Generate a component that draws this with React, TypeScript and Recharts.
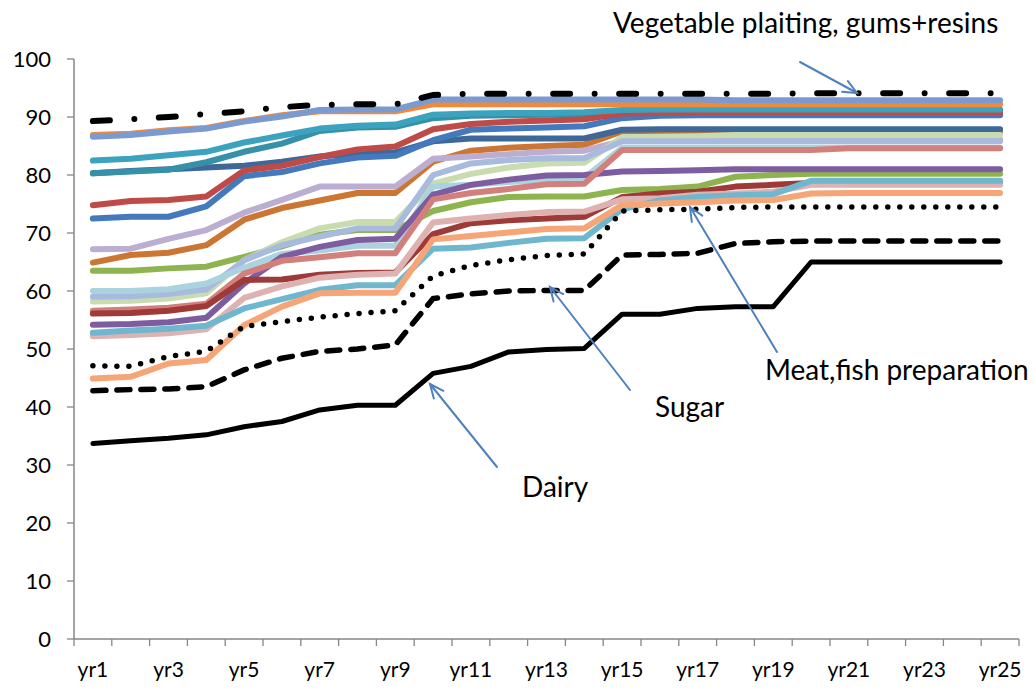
import { LineChart, Line, XAxis, YAxis } from "recharts"

const years = [
  "yr1", "yr2", "yr3", "yr4", "yr5", "yr6", "yr7", "yr8", "yr9", "yr10",
  "yr11", "yr12", "yr13", "yr14", "yr15", "yr16", "yr17", "yr18", "yr19", "yr20",
  "yr21", "yr22", "yr23", "yr24", "yr25",
]

const yTicks = [0, 10, 20, 30, 40, 50, 60, 70, 80, 90, 100]

// black series (annotated)
const vegetablePlaiting = [89.3, 89.6, 90.0, 90.5, 91.0, 91.7, 92.1, 92.2, 92.2, 93.8, 94.0, 94.0, 94.0, 94.0, 94.0, 94.0, 94.0, 94.0, 94.0, 94.1, 94.1, 94.1, 94.1, 94.1, 94.1]
const meatFish = [47.1, 47.0, 48.7, 49.6, 53.9, 54.7, 55.5, 56.1, 56.6, 62.6, 64.4, 65.4, 66.1, 66.4, 73.8, 74.0, 74.1, 74.4, 74.5, 74.5, 74.5, 74.5, 74.5, 74.5, 74.5]
const sugar = [42.8, 43.0, 43.1, 43.5, 46.4, 48.4, 49.6, 50.0, 50.7, 58.7, 59.5, 60.0, 60.1, 60.1, 66.2, 66.3, 66.5, 68.2, 68.5, 68.6, 68.6, 68.6, 68.6, 68.6, 68.6]
const dairy = [33.7, 34.2, 34.6, 35.2, 36.6, 37.5, 39.5, 40.3, 40.3, 45.8, 47.0, 49.5, 49.9, 50.1, 56.0, 56.0, 57.0, 57.3, 57.3, 65.0, 65.0, 65.0, 65.0, 65.0, 65.0]

// other sectors
const s1 = [86.6, 86.9, 87.5, 88.0, 89.2, 90.1, 91.2, 91.3, 91.3, 93.0, 93.0, 93.0, 93.0, 93.0, 93.0, 93.0, 93.0, 92.9, 92.9, 92.9, 92.9, 92.9, 92.9, 92.9, 92.9]
const s2 = [86.9, 87.1, 87.7, 88.1, 89.3, 90.3, 91.0, 91.0, 91.0, 92.2, 92.2, 92.2, 92.2, 92.2, 92.2, 92.2, 92.2, 92.2, 92.2, 92.2, 92.2, 92.2, 92.2, 92.2, 92.2]
const s3 = [82.5, 82.8, 83.4, 84.0, 85.6, 86.8, 88.0, 88.5, 88.7, 90.4, 90.6, 90.7, 90.7, 90.8, 91.2, 91.3, 91.3, 91.3, 91.3, 91.3, 91.3, 91.3, 91.3, 91.3, 91.3]
const s4 = [80.3, 80.6, 80.9, 82.2, 84.0, 85.4, 87.6, 88.2, 88.3, 89.8, 90.2, 90.3, 90.4, 90.5, 90.9, 91.0, 91.0, 91.0, 91.0, 91.0, 91.0, 91.0, 91.0, 91.0, 91.0]
const s5 = [80.3, 80.7, 81.0, 81.3, 81.6, 82.3, 83.2, 83.7, 83.9, 85.8, 86.3, 86.3, 86.3, 86.3, 87.8, 87.9, 87.9, 87.9, 87.9, 87.9, 87.9, 87.9, 87.9, 87.9, 87.9]
const s6 = [72.5, 72.8, 72.8, 74.6, 79.8, 80.5, 82.0, 83.0, 83.3, 86.0, 87.8, 88.0, 88.2, 88.4, 89.8, 90.2, 90.3, 90.3, 90.3, 90.3, 90.3, 90.3, 90.3, 90.3, 90.3]
const s7 = [74.8, 75.5, 75.7, 76.3, 80.8, 81.6, 83.1, 84.4, 84.9, 87.9, 88.8, 89.2, 89.4, 89.6, 90.6, 90.7, 90.7, 90.7, 90.7, 90.7, 90.7, 90.7, 90.7, 90.7, 90.7]
const s8 = [67.2, 67.3, 69.0, 70.5, 73.5, 75.7, 78.0, 78.0, 78.0, 82.8, 83.2, 83.6, 84.0, 84.2, 85.9, 86.0, 86.1, 86.1, 86.1, 86.1, 86.1, 86.1, 86.1, 86.1, 86.1]
const s9 = [64.9, 66.2, 66.6, 67.9, 72.3, 74.3, 75.6, 76.9, 76.9, 82.3, 84.2, 84.7, 85.0, 85.2, 87.5, 87.5, 87.4, 87.4, 87.4, 87.4, 87.4, 87.4, 87.4, 87.4, 87.4]
const s10 = [58.2, 58.3, 58.7, 59.6, 65.3, 68.4, 70.8, 71.9, 71.9, 78.5, 80.2, 81.3, 82.0, 82.1, 86.5, 86.6, 86.7, 86.9, 86.9, 86.9, 86.9, 86.9, 86.9, 86.9, 86.9]
const s11 = [63.5, 63.5, 63.9, 64.2, 65.9, 67.7, 69.7, 70.5, 70.5, 73.8, 75.3, 76.2, 76.3, 76.3, 77.4, 77.6, 78.0, 79.7, 80.0, 80.2, 80.2, 80.2, 80.2, 80.2, 80.2]
const s12 = [59.0, 59.1, 59.5, 60.3, 65.3, 67.9, 69.4, 70.8, 70.8, 80.0, 82.0, 82.6, 82.9, 82.9, 85.8, 85.8, 85.8, 85.8, 85.8, 85.8, 85.8, 85.8, 85.8, 85.8, 85.8]
const s13 = [60.0, 60.0, 60.3, 61.3, 64.0, 66.4, 67.0, 67.8, 67.8, 78.0, 78.3, 78.8, 79.2, 79.5, 84.7, 84.7, 84.7, 84.7, 84.7, 84.7, 84.7, 84.7, 84.7, 84.7, 84.7]
const s14 = [56.6, 56.8, 57.1, 57.8, 63.0, 65.2, 65.8, 66.5, 66.5, 75.8, 76.9, 77.6, 78.4, 78.5, 84.3, 84.3, 84.3, 84.3, 84.3, 84.3, 84.6, 84.6, 84.6, 84.6, 84.6]
const s15 = [56.1, 56.2, 56.6, 57.4, 61.9, 62.0, 62.8, 63.1, 63.2, 69.8, 71.7, 72.2, 72.5, 72.8, 76.2, 76.8, 77.1, 78.0, 78.3, 78.6, 78.6, 78.6, 78.6, 78.6, 78.6]
const s16 = [54.2, 54.3, 54.6, 55.4, 61.3, 65.9, 67.6, 68.8, 69.0, 76.6, 78.3, 79.2, 79.9, 80.0, 80.6, 80.7, 80.8, 81.0, 81.0, 81.0, 81.0, 81.0, 81.0, 81.0, 81.0]
const s17 = [52.8, 53.2, 53.5, 54.0, 57.0, 58.6, 60.2, 61.0, 61.0, 67.3, 67.5, 68.3, 69.0, 69.1, 74.1, 75.6, 76.2, 76.5, 76.7, 79.0, 79.0, 79.0, 79.0, 79.0, 79.0]
const s18 = [52.2, 52.4, 52.7, 53.4, 58.8, 60.8, 62.3, 62.8, 63.0, 71.8, 72.5, 73.1, 73.6, 73.7, 75.8, 76.0, 76.6, 76.8, 77.1, 78.3, 78.3, 78.3, 78.3, 78.3, 78.3]
const s19 = [44.9, 45.2, 47.5, 48.1, 54.1, 57.3, 59.6, 59.7, 59.7, 68.9, 69.5, 70.1, 70.7, 70.8, 74.8, 75.1, 75.3, 75.6, 75.7, 76.8, 76.9, 76.9, 76.9, 76.9, 76.9]

const series = [
  { key: "s9", values: s9, color: "#CC7634" },
  { key: "s8", values: s8, color: "#BBAED0" },
  { key: "s5", values: s5, color: "#3D6898" },
  { key: "s4", values: s4, color: "#3590A8" },
  { key: "s6", values: s6, color: "#4479BE" },
  { key: "s7", values: s7, color: "#BE4B48" },
  { key: "s3", values: s3, color: "#3CA3BF" },
  { key: "s2", values: s2, color: "#EE8A3A" },
  { key: "s1", values: s1, color: "#7C9AD2" },
  { key: "s11", values: s11, color: "#8DB44E" },
  { key: "s10", values: s10, color: "#C8DCB0" },
  { key: "s12", values: s12, color: "#A8BADD" },
  { key: "s13", values: s13, color: "#ABD3DF" },
  { key: "s16", values: s16, color: "#7D5DA0" },
  { key: "s14", values: s14, color: "#D3807C" },
  { key: "s15", values: s15, color: "#9E3A38" },
  { key: "s18", values: s18, color: "#DDB2B1" },
  { key: "s17", values: s17, color: "#6FB7CF" },
  { key: "s19", values: s19, color: "#F6A577" },
]

const data = years.map((yr, i) => {
  const row: Record<string, any> = {
    yr,
    vegetablePlaiting: vegetablePlaiting[i],
    meatFish: meatFish[i],
    sugar: sugar[i],
    dairy: dairy[i],
  }
  series.forEach((s) => {
    row[s.key] = s.values[i]
  })
  return row
})

const FONT = "Lato, 'Open Sans', sans-serif"
const BAND = (1035 - 74 - 16) / years.length

function YearTick(props: any) {
  const { x, y, payload, index } = props
  const half = BAND / 2
  return (
    <g>
      <line x1={x - half} x2={x - half} y1={y} y2={y + 7} stroke="#868686" strokeWidth={1.3} />
      {index === years.length - 1 && (
        <line x1={x + half} x2={x + half} y1={y} y2={y + 7} stroke="#868686" strokeWidth={1.3} />
      )}
      {index % 2 === 0 && (
        <text x={x} y={y + 38} textAnchor="middle" fontSize={21} fill="#000" fontFamily={FONT}>
          {payload.value}
        </text>
      )}
    </g>
  )
}

function Arrow({ from, to }: { from: number[]; to: number[] }) {
  const [x1, y1] = from
  const [x2, y2] = to
  const ang = Math.atan2(y2 - y1, x2 - x1)
  const len = 15
  const spread = 0.42
  const w1 = [x2 - len * Math.cos(ang - spread), y2 - len * Math.sin(ang - spread)]
  const w2 = [x2 - len * Math.cos(ang + spread), y2 - len * Math.sin(ang + spread)]
  return (
    <g stroke="#4F81BD" strokeWidth={2} fill="none" strokeLinecap="round">
      <line x1={x1} y1={y1} x2={x2} y2={y2} />
      <polyline points={`${w1[0]},${w1[1]} ${x2},${y2} ${w2[0]},${w2[1]}`} />
    </g>
  )
}

const labelStyle = { fontFamily: FONT, fontSize: 28, fill: "#000" }

export default function App() {
  return (
    <div style={{ position: "absolute", left: 0, top: 0, width: 1035, height: 693, background: "#fff" }}>
      <LineChart
        width={1035}
        height={693}
        data={data}
        margin={{ top: 59, right: 16, bottom: 0, left: 0 }}
      >
        <XAxis
          dataKey="yr"
          interval={0}
          padding={{ left: BAND / 2, right: BAND / 2 }}
          tickLine={false}
          tickSize={0}
          tickMargin={0}
          height={54}
          axisLine={{ stroke: "#868686", strokeWidth: 1.5 }}
          tick={<YearTick />}
        />
        <YAxis
          domain={[0, 100]}
          ticks={yTicks}
          width={74}
          tickSize={7}
          tickMargin={16}
          axisLine={{ stroke: "#868686", strokeWidth: 1.5 }}
          tickLine={{ stroke: "#868686", strokeWidth: 1.3 }}
          tick={{ fontSize: 22, fill: "#000", fontFamily: FONT }}
        />

        {series.map((s) => (
          <Line
            key={s.key}
            type="linear"
            dataKey={s.key}
            stroke={s.color}
            strokeWidth={6}
            strokeLinecap="round"
            strokeLinejoin="round"
            dot={false}
            isAnimationActive={false}
          />
        ))}

        {/* Vegetable plaiting */}
        <Line
          type="linear"
          dataKey="vegetablePlaiting"
          stroke="#000"
          strokeWidth={6}
          strokeDasharray="17 24.5 0 24.5"
          strokeLinecap="round"
          dot={false}
          isAnimationActive={false}
        />
        {/* Meat, fish */}
        <Line
          type="linear"
          dataKey="meatFish"
          stroke="#000"
          strokeWidth={5.5}
          strokeDasharray="0 12"
          strokeLinecap="round"
          dot={false}
          isAnimationActive={false}
        />
        {/* Sugar */}
        <Line
          type="linear"
          dataKey="sugar"
          stroke="#000"
          strokeWidth={5.5}
          strokeDasharray="13 11"
          strokeLinecap="round"
          dot={false}
          isAnimationActive={false}
        />
        {/* Dairy */}
        <Line
          type="linear"
          dataKey="dairy"
          stroke="#000"
          strokeWidth={5}
          strokeLinecap="round"
          strokeLinejoin="round"
          dot={false}
          isAnimationActive={false}
        />
      </LineChart>

      <svg
        width={1035}
        height={693}
        style={{ position: "absolute", left: 0, top: 0, pointerEvents: "none" }}
      >
        <Arrow from={[800, 62]} to={[857, 93]} />
        <Arrow from={[777, 352]} to={[690, 207]} />
        <Arrow from={[630, 390]} to={[550, 287]} />
        <Arrow from={[497, 467]} to={[430, 384]} />
        <text x={613} y={33} {...labelStyle}>Vegetable plaiting, gums+resins</text>
        <text x={765} y={380} {...labelStyle}>Meat,fish preparation</text>
        <text x={655} y={417} {...labelStyle}>Sugar</text>
        <text x={522} y={497} {...labelStyle}>Dairy</text>
      </svg>
    </div>
  )
}
